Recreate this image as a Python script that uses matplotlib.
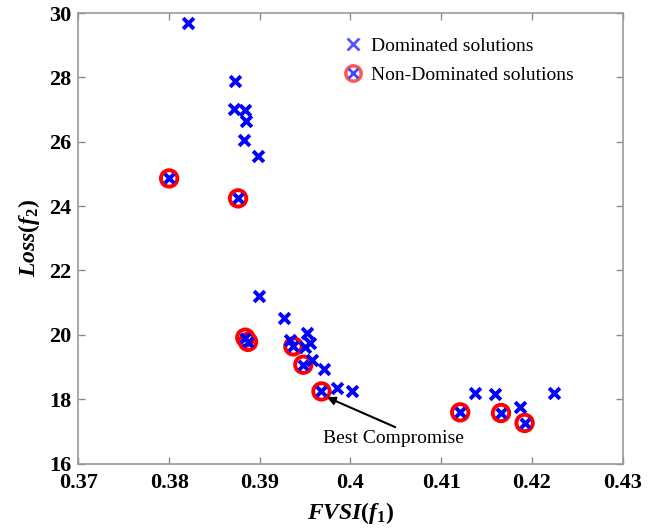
import matplotlib
matplotlib.use("Agg")
import matplotlib.pyplot as plt
from matplotlib.lines import Line2D

plt.rcParams['font.family'] = ['Liberation Serif', 'DejaVu Serif']
plt.rcParams['mathtext.fontset'] = 'custom'
plt.rcParams['mathtext.it'] = 'Liberation Serif:italic:bold'
plt.rcParams['mathtext.rm'] = 'Liberation Serif:bold'
plt.rcParams['mathtext.bf'] = 'Liberation Serif:bold'

# Dominated solutions
dom_x = [0.3821, 0.3873, 0.3872, 0.3884, 0.3885, 0.3883, 0.3898, 0.3899, 0.3927,
         0.3933, 0.3952, 0.3955, 0.3950, 0.3957, 0.3971, 0.3985, 0.4002, 0.4137,
         0.4159, 0.4224, 0.4187]
dom_y = [29.68, 27.89, 27.01, 26.98, 26.64, 26.05, 25.56, 21.20, 20.52,
         19.85, 20.06, 19.75, 19.62, 19.21, 18.95, 18.36, 18.24, 18.20,
         18.15, 18.20, 17.75]

# Non-dominated solutions
nd_x = [0.3800, 0.3876, 0.3884, 0.3887, 0.3937, 0.3948, 0.3968, 0.4121, 0.4166, 0.4192]
nd_y = [24.86, 24.24, 19.91, 19.78, 19.64, 19.07, 18.24, 17.59, 17.57, 17.26]

best_x, best_y = 0.3968, 18.24

xticks = [0.37, 0.38, 0.39, 0.40, 0.41, 0.42, 0.43]
xtick_labels = ['0.37', '0.38', '0.39', '0.4', '0.41', '0.42', '0.43']
yticks = [16, 18, 20, 22, 24, 26, 28, 30]

fig = plt.figure(figsize=(6.55, 5.31), dpi=100)
ax = fig.add_axes([0.1198, 0.1271, 0.8306, 0.8484])

ax.scatter(nd_x, nd_y, s=140, facecolors='none', edgecolors='red', linewidths=2.8, zorder=3)
ax.scatter(nd_x, nd_y, marker='x', s=45, c='blue', linewidths=2.8, zorder=4)
ax.scatter(dom_x, dom_y, marker='x', s=60, c='blue', linewidths=2.8, zorder=4)

ax.annotate('Best Compromise', xy=(best_x + 0.0006, best_y - 0.18), xytext=(0.4047, 16.78),
            ha='center', va='center', fontsize=14,
            arrowprops=dict(arrowstyle='-|>', color='black', lw=1.5, mutation_scale=12,
                            relpos=(0.56, 1.0), shrinkA=0, shrinkB=0))

ax.set_xlim(0.37, 0.43)
ax.set_ylim(16, 30)
ax.set_xticks(xticks)
ax.set_xticklabels(xtick_labels)
ax.set_yticks(yticks)
for lab in ax.get_xticklabels() + ax.get_yticklabels():
    lab.set_fontweight('bold')
    lab.set_fontsize(16)
ax.tick_params(direction='in', length=5, width=1, color='#8c8c8c',
               top=True, right=True)
ax.tick_params(axis='x', pad=7)
ax.tick_params(axis='y', pad=5)
for sp in ax.spines.values():
    sp.set_color('#9a9a9a')
    sp.set_linewidth(1.2)

ax.set_xlabel(r'$FVSI(f_1)$', fontsize=17, labelpad=5)
ax.set_ylabel(r'$Loss(f_2)$', fontsize=17, labelpad=5)

h_dom = Line2D([], [], marker='x', color='#5555ff', linestyle='none', markersize=8, markeredgewidth=2)
h_circ = Line2D([], [], marker='o', markerfacecolor='none', markeredgecolor='#ff5555',
                linestyle='none', markersize=11, markeredgewidth=2.5)
h_x = Line2D([], [], marker='x', color='#4444ff', linestyle='none', markersize=7, markeredgewidth=2)
ax.legend([h_dom, (h_circ, h_x)], ['Dominated solutions', 'Non-Dominated solutions'],
          loc='upper left', bbox_to_anchor=(0.455, 0.985), frameon=False, fontsize=14,
          handlelength=1.0, handletextpad=0.4, labelspacing=0.6)

fig.savefig('out.png', dpi=100)
